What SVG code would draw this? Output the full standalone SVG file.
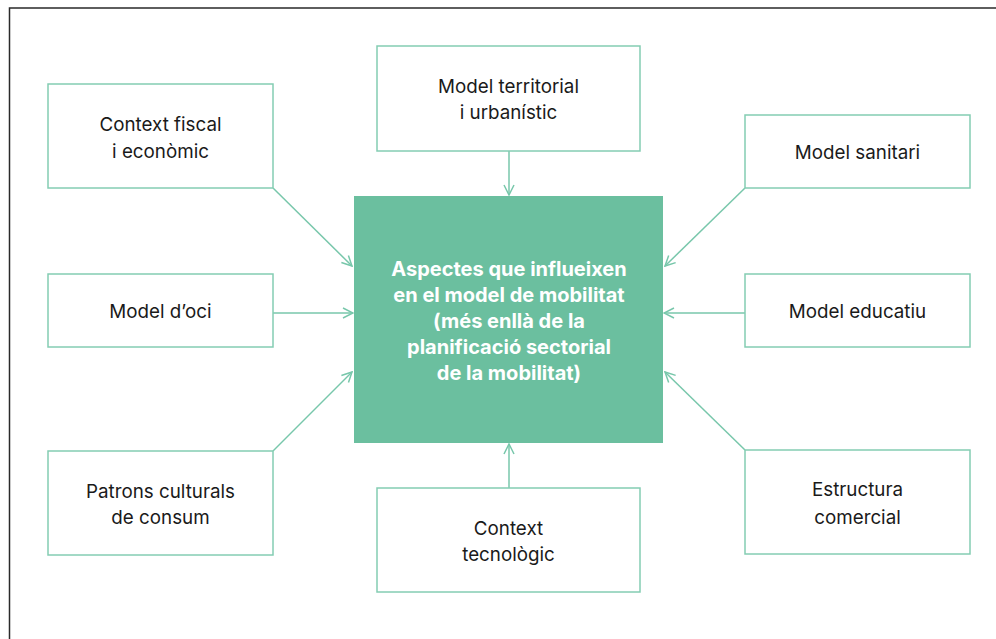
<svg xmlns="http://www.w3.org/2000/svg" width="996" height="639" viewBox="0 0 996 639">
<defs>
<style>
.box{fill:#fff;stroke:#84CDB3;stroke-width:1.5}
.t{font-family:Inter,"Liberation Sans",sans-serif;font-size:18.8px;fill:#1a1a1a;text-anchor:middle}
.c{font-family:Inter,"Liberation Sans",sans-serif;font-size:20px;font-weight:bold;fill:#fff;text-anchor:middle}
.ln{stroke:#78C7AB;stroke-width:1.5;fill:none;marker-end:url(#ah)}
</style>
<marker id="ah" viewBox="0 0 12 12" refX="11" refY="6" markerWidth="12" markerHeight="12" markerUnits="userSpaceOnUse" orient="auto">
<path d="M1,1 L11,6 L1,11" fill="none" stroke="#78C7AB" stroke-width="1.5"/>
</marker>
</defs>
<rect width="996" height="639" fill="#fff"/>
<path d="M9.5,640 V8 H997" fill="none" stroke="#2a2a2a" stroke-width="1.5"/>
<g id="connectors">
<line class="ln" x1="273" y1="188" x2="352" y2="266"/>
<line class="ln" x1="509" y1="151" x2="509" y2="195"/>
<line class="ln" x1="745" y1="188" x2="665" y2="266"/>
<line class="ln" x1="273" y1="313" x2="353" y2="313"/>
<line class="ln" x1="745" y1="313" x2="664" y2="313"/>
<line class="ln" x1="273" y1="451" x2="352" y2="372"/>
<line class="ln" x1="509" y1="488" x2="509" y2="444"/>
<line class="ln" x1="745" y1="450" x2="665" y2="372"/>
</g>
<g id="center">
<rect x="354" y="196" width="309" height="247" fill="#6BBF9F"/>
<text class="c" x="509" y="276">Aspectes que influeixen</text>
<text class="c" x="509" y="302">en el model de mobilitat</text>
<text class="c" x="509" y="328">(més enllà de la</text>
<text class="c" x="509" y="354">planificació sectorial</text>
<text class="c" x="509" y="380">de la mobilitat)</text>
</g>
<g id="fiscal">
<rect class="box" x="48" y="84" width="225" height="104"/>
<text class="t" x="160.5" y="131">Context fiscal</text>
<text class="t" x="160.5" y="158">i econòmic</text>
</g>
<g id="territorial">
<rect class="box" x="377" y="46" width="263" height="105"/>
<text class="t" x="508.5" y="93">Model territorial</text>
<text class="t" x="508.5" y="119">i urbanístic</text>
</g>
<g id="sanitari">
<rect class="box" x="745" y="115" width="225" height="73"/>
<text class="t" x="857.5" y="159">Model sanitari</text>
</g>
<g id="oci">
<rect class="box" x="48" y="274" width="225" height="73"/>
<text class="t" x="160.5" y="318">Model d’oci</text>
</g>
<g id="educatiu">
<rect class="box" x="745" y="274" width="225" height="73"/>
<text class="t" x="857.5" y="318">Model educatiu</text>
</g>
<g id="patrons">
<rect class="box" x="48" y="451" width="225" height="104"/>
<text class="t" x="160.5" y="498">Patrons culturals</text>
<text class="t" x="160.5" y="524">de consum</text>
</g>
<g id="tecnologic">
<rect class="box" x="377" y="488" width="263" height="104"/>
<text class="t" x="508.5" y="535">Context</text>
<text class="t" x="508.5" y="561">tecnològic</text>
</g>
<g id="comercial">
<rect class="box" x="745" y="450" width="225" height="104"/>
<text class="t" x="857.5" y="496">Estructura</text>
<text class="t" x="857.5" y="524">comercial</text>
</g>
</svg>
